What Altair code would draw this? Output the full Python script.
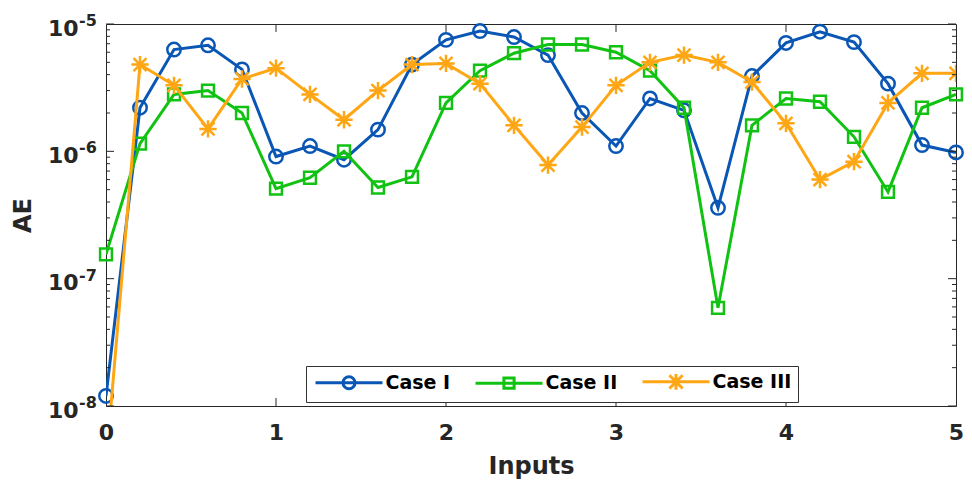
import altair as alt
import pandas as pd

# ---------------- data ----------------
inputs = [0.0, 0.2, 0.4, 0.6, 0.8, 1.0, 1.2, 1.4, 1.6, 1.8, 2.0, 2.2, 2.4,
          2.6, 2.8, 3.0, 3.2, 3.4, 3.6, 3.8, 4.0, 4.2, 4.4, 4.6, 4.8, 5.0]
case1 = [1.2e-8, 2.2e-6, 6.3e-6, 6.8e-6, 4.4e-6, 9.1e-7, 1.1e-6, 8.6e-7, 1.48e-6,
         4.8e-6, 7.5e-6, 8.8e-6, 7.9e-6, 5.7e-6, 2.0e-6, 1.1e-6, 2.6e-6, 2.1e-6,
         3.6e-7, 3.9e-6, 7.1e-6, 8.7e-6, 7.2e-6, 3.4e-6, 1.12e-6, 9.8e-7]
case2 = [1.55e-7, 1.15e-6, 2.8e-6, 3.0e-6, 2.0e-6, 5.1e-7, 6.2e-7, 1.0e-6, 5.2e-7,
         6.3e-7, 2.4e-6, 4.3e-6, 5.9e-6, 6.9e-6, 6.9e-6, 6.0e-6, 4.3e-6, 2.2e-6,
         5.9e-8, 1.6e-6, 2.6e-6, 2.45e-6, 1.3e-6, 4.8e-7, 2.2e-6, 2.8e-6]
case3 = [3.5e-9, 4.8e-6, 3.3e-6, 1.5e-6, 3.7e-6, 4.5e-6, 2.8e-6, 1.77e-6, 3.0e-6,
         4.8e-6, 4.9e-6, 3.4e-6, 1.6e-6, 7.8e-7, 1.55e-6, 3.3e-6, 5.0e-6, 5.7e-6,
         5.0e-6, 3.5e-6, 1.66e-6, 6.0e-7, 8.3e-7, 2.4e-6, 4.1e-6, 4.1e-6]

series = ["Case I", "Case II", "Case III"]
colors = ["#0a56b4", "#12c212", "#ffa614"]

x_ticks = [0, 1, 2, 3, 4, 5]
x_inner_ticks = [1, 2, 3, 4]
y_major = [1e-8, 1e-7, 1e-6, 1e-5]
y_exponents = ["-8", "-7", "-6", "-5"]
y_minor = [2e-8, 3e-8, 4e-8, 5e-8, 6e-8, 7e-8, 8e-8, 9e-8,
           2e-7, 3e-7, 4e-7, 5e-7, 6e-7, 7e-7, 8e-7, 9e-7,
           2e-6, 3e-6, 4e-6, 5e-6, 6e-6, 7e-6, 8e-6, 9e-6]

# ---------------- styling ----------------
W, H = 850, 382
FONT = "DejaVu Sans"
TXT = "#262626"

marker_shapes = [
    "circle",
    "square",
    "M-1,0H1M0,-1V1M-0.75,-0.75L0.75,0.75M-0.75,0.75L0.75,-0.75",
]
marker_sizes = [180, 140, 300]
legend_paths = [
    "M-5.58,0H5.58M-1,0A1,1 0 1,0 1,0A1,1 0 1,0 -1,0",
    "M-5.58,0H5.58M-0.85,-0.85H0.85V0.85H-0.85Z",
    "M-5.58,0H5.58M0,-1.3V1.3M-1.1,-1.1L1.1,1.1M-1.1,1.1L1.1,-1.1",
]

df = pd.DataFrame({
    "x": inputs * 3,
    "y": case1 + case2 + case3,
    "series": [s for s in series for _ in inputs],
})

xscale = alt.Scale(domain=[0, 5], nice=False, zero=False)
yscale = alt.Scale(type="log", domain=[1e-8, 1e-5], nice=False)

x_axis = alt.Axis(values=x_ticks, format="d", title="Inputs", ticks=False, domain=False,
                  grid=False, labelFont=FONT, labelFontSize=22, labelFontWeight="bold",
                  labelColor=TXT, labelPadding=16, labelFlush=False, labelOverlap=False,
                  titleFont=FONT, titleFontSize=24, titleFontWeight="bold",
                  titleColor=TXT, titlePadding=11)
y_axis = alt.Axis(values=y_major, title="AE", ticks=False, domain=False, grid=False,
                  labelExpr="'10'", labelFont=FONT, labelFontSize=22,
                  labelFontWeight="bold", labelColor=TXT, labelPadding=28,
                  labelOffset=4, labelFlush=False, labelOverlap=False,
                  titleFont=FONT, titleFontSize=24, titleFontWeight="bold",
                  titleColor=TXT, titlePadding=12)


def X(field):
    return alt.X(field, scale=xscale, axis=x_axis)


def Y(field):
    return alt.Y(field, scale=yscale, axis=y_axis)


layers = []
for i, s in enumerate(series):
    base = alt.Chart(df).transform_filter(alt.datum.series == s)
    line = base.mark_line(color=colors[i], strokeWidth=3, clip=True).encode(
        x=X("x:Q"), y=Y("y:Q"))
    pts = base.mark_point(shape=marker_shapes[i], filled=False, size=marker_sizes[i],
                          strokeWidth=2.5, color=colors[i], opacity=1,
                          clip=(i == 2)).encode(x=X("x:Q"), y=Y("y:Q"))
    layers += [line, pts]

# exponent text for the log labels
exp_df = pd.DataFrame({"v": y_major, "e": y_exponents})
exps = alt.Chart(exp_df).mark_text(font=FONT, fontSize=16, fontWeight="bold", color=TXT,
                                   align="left", baseline="middle", dy=-3).encode(
    y=Y("v:Q"), x=alt.value(-27), text="e:N")

# inward ticks (MATLAB style)
ymaj_df = pd.DataFrame({"v": y_major})
ymin_df = pd.DataFrame({"v": y_minor})
xt_df = pd.DataFrame({"v": x_inner_ticks})
tick_layers = []
for d, ln in [(ymaj_df, 8), (ymin_df, 4)]:
    tick_layers.append(alt.Chart(d).mark_rule(color=TXT, strokeWidth=1).encode(
        y=Y("v:Q"), x=alt.value(0), x2=alt.value(ln)))
    tick_layers.append(alt.Chart(d).mark_rule(color=TXT, strokeWidth=1).encode(
        y=Y("v:Q"), x=alt.value(W), x2=alt.value(W - ln)))
for y0, y1 in [(H, H - 8), (0, 8)]:
    tick_layers.append(alt.Chart(xt_df).mark_rule(color=TXT, strokeWidth=1).encode(
        x=X("v:Q"), y=alt.value(y0), y2=alt.value(y1)))

# legend carrier (no visible marks)
leg = alt.Legend(title=None, orient="none", legendX=200, legendY=342,
                 direction="horizontal", columns=3, symbolSize=144,
                 symbolOffset=27.5, labelOffset=27, symbolStrokeWidth=3,
                 symbolOpacity=1,
                 labelFont=FONT, labelFontSize=19, labelFontWeight="bold",
                 labelColor="#000000", strokeColor="#333333", fillColor="white",
                 padding=6, columnPadding=18, cornerRadius=0)
legend_layer = alt.Chart(df).transform_filter("datum.x < -1").mark_point(
    filled=False, strokeWidth=3, opacity=1).encode(
    color=alt.Color("series:N", scale=alt.Scale(domain=series, range=colors), legend=leg),
    shape=alt.Shape("series:N", scale=alt.Scale(domain=series, range=legend_paths),
                    legend=leg),
)

chart = alt.layer(*layers, *tick_layers, exps, legend_layer).properties(
    width=W, height=H,
    background="white",
    autosize=alt.AutoSizeParams(type="none"),
    padding={"left": 98, "top": 16, "right": 8, "bottom": 74},
).configure_view(stroke=TXT, strokeWidth=1)

chart.save("out.html", embed_options={"renderer": "svg", "actions": False})
